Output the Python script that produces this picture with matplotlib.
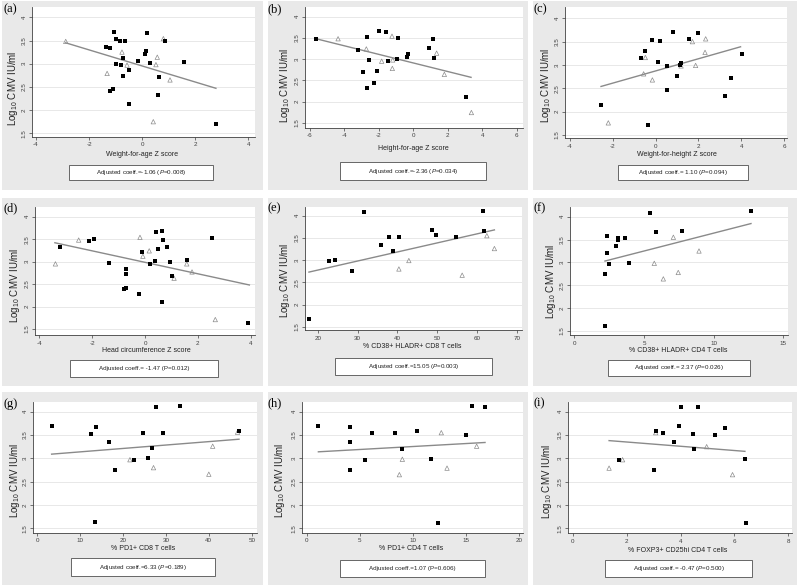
import matplotlib
matplotlib.use('Agg')
import matplotlib.pyplot as plt
from matplotlib.patches import Rectangle

plt.rcParams['font.family'] = 'Liberation Sans'
plt.rcParams['mathtext.fontset'] = 'custom'
plt.rcParams['mathtext.rm'] = 'Liberation Sans'
plt.rcParams['mathtext.it'] = 'Liberation Sans:italic'

W, H = 800, 587

# (a) weight-for-age
a_sq_x = [-1.05, 0.18, -0.97, -0.82, -0.65, 0.85, -1.37, -1.21, 0.15, 0.11, -0.72, -0.16,
          1.58, 0.30, -1.00, -0.78, -0.49, -0.72, 0.62, -1.11, -1.22, 0.60, -0.48, 2.80]
a_sq_y = [3.69, 3.67, 3.53, 3.50, 3.48, 3.50, 3.35, 3.33, 3.28, 3.21, 3.12, 3.05,
          3.04, 3.02, 2.99, 2.97, 2.86, 2.74, 2.71, 2.45, 2.41, 2.33, 2.13, 1.69]
a_tri_x = [-2.88, -0.76, 0.80, 0.57, -0.57, 0.52, -1.32, 1.05, 0.42]
a_tri_y = [3.48, 3.25, 3.54, 3.14, 2.97, 2.98, 2.79, 2.65, 1.75]
a_fit_x = [-2.88, 2.78]
a_fit_y = [3.45, 2.47]

# (b) height-for-age
b_sq_x = [-5.65, -1.97, -1.61, -2.67, -0.87, 1.12, 0.93, -3.23, -0.31, -0.35, 1.22, -0.97,
          -2.57, -1.45, -2.90, -2.11, -2.26, -2.67, 3.06]
b_sq_y = [3.47, 3.67, 3.65, 3.53, 3.50, 3.48, 3.27, 3.21, 3.11, 3.04, 3.02, 3.00,
          2.98, 2.95, 2.69, 2.73, 2.44, 2.33, 2.11]
b_tri_x = [-4.37, -1.24, -2.73, 1.35, -1.84, -1.20, -1.22, 1.80, 3.37]
b_tri_y = [3.48, 3.54, 3.24, 3.14, 2.95, 2.98, 2.78, 2.64, 1.74]
b_fit_x = [-5.65, 3.35]
b_fit_y = [3.48, 2.57]

# (c) weight-for-height
c_sq_x = [0.80, 1.98, -0.15, 0.21, 1.56, -0.48, -0.70, 0.13, 4.02, 0.53, 1.14, 1.19,
          1.00, 3.51, 0.53, 3.24, -2.55, -0.36]
c_sq_y = [3.71, 3.69, 3.53, 3.51, 3.55, 3.29, 3.14, 3.06, 3.24, 2.98, 3.01, 3.05,
          2.76, 2.73, 2.46, 2.34, 2.14, 1.71]
c_tri_x = [1.72, 2.34, 2.31, -0.48, 1.19, 1.87, -0.56, -0.15, -2.21]
c_tri_y = [3.50, 3.56, 3.27, 3.16, 2.98, 2.99, 2.81, 2.68, 1.76]
c_fit_x = [-2.55, 3.97]
c_fit_y = [2.54, 3.39]

# (d) head circumference
d_sq_x = [0.43, 0.66, 2.52, -2.12, -1.92, 0.69, -3.21, 0.85, 0.48, -0.13, 1.58, 0.39,
          0.96, 0.19, -1.35, -0.73, -0.73, 1.03, -0.73, -0.81, -0.24, 0.66, 3.91]
d_sq_y = [3.67, 3.69, 3.52, 3.47, 3.50, 3.49, 3.33, 3.32, 3.27, 3.21, 3.04, 3.01,
          2.99, 2.95, 2.98, 2.84, 2.72, 2.69, 2.41, 2.38, 2.29, 2.09, 1.64]
d_tri_x = [-3.39, -2.51, -0.19, 0.16, -0.08, 1.58, 1.10, 1.78, 2.66]
d_tri_y = [2.95, 3.48, 3.54, 3.24, 3.12, 2.95, 2.63, 2.77, 1.71]
d_fit_x = [-3.41, 3.95]
d_fit_y = [3.42, 2.48]

# (e) CD38+ HLADR+ CD8
e_sq_x = [31.7, 61.6, 48.6, 49.6, 61.8, 38.0, 40.4, 54.7, 35.9, 38.8, 22.9, 24.4, 28.7, 17.8]
e_sq_y = [4.08, 4.10, 3.68, 3.57, 3.66, 3.53, 3.51, 3.52, 3.34, 3.21, 2.98, 3.00, 2.75, 1.67]
e_tri_x = [40.4, 42.9, 56.3, 62.5, 64.4]
e_tri_y = [2.80, 2.99, 2.66, 3.55, 3.26]
e_fit_x = [17.8, 64.4]
e_fit_y = [2.73, 3.68]

# (f) CD38+ HLADR+ CD4
f_sq_x = [5.41, 12.68, 7.70, 5.86, 2.37, 3.16, 3.16, 3.64, 2.99, 2.37, 2.49, 3.90, 2.20, 2.22]
f_sq_y = [4.09, 4.12, 3.69, 3.67, 3.58, 3.53, 3.50, 3.53, 3.35, 3.21, 2.97, 2.98, 2.75, 1.62]
f_tri_x = [7.11, 5.74, 8.95, 7.46, 6.39]
f_tri_y = [3.55, 2.98, 3.25, 2.78, 2.64]
f_fit_x = [2.20, 12.68]
f_fit_y = [3.03, 3.85]

# (g) PD1+ CD8
g_sq_x = [3.34, 12.52, 13.76, 27.76, 33.36, 16.80, 24.57, 29.39, 26.83, 22.55, 25.74, 18.20, 13.45, 47.04]
g_sq_y = [3.70, 3.52, 3.68, 4.11, 4.12, 3.35, 3.54, 3.54, 3.23, 2.97, 3.00, 2.75, 1.63, 3.59]
g_tri_x = [46.7, 21.6, 27.1, 40.9, 40.0]
g_tri_y = [3.56, 2.97, 2.80, 3.26, 2.66]
g_fit_x = [3.34, 47.04]
g_fit_y = [3.09, 3.41]

# (h) PD1+ CD4
h_sq_x = [1.10, 15.6, 16.8, 4.11, 6.12, 8.32, 10.42, 15.0, 4.11, 9.01, 5.49, 11.68, 4.11, 12.40]
h_sq_y = [3.70, 4.12, 4.10, 3.67, 3.54, 3.54, 3.59, 3.51, 3.35, 3.21, 2.97, 2.99, 2.74, 1.61]
h_tri_x = [12.68, 16.01, 9.01, 13.22, 8.73]
h_tri_y = [3.55, 3.26, 2.98, 2.79, 2.65]
h_fit_x = [1.10, 16.8]
h_fit_y = [3.14, 3.34]

# (i) FOXP3+ CD25hi CD4
i_sq_x = [4.00, 4.64, 3.94, 5.66, 3.08, 3.36, 4.48, 5.29, 3.75, 4.49, 1.73, 6.39, 3.03, 6.42]
i_sq_y = [4.11, 4.10, 3.69, 3.66, 3.58, 3.54, 3.53, 3.51, 3.34, 3.21, 2.97, 2.99, 2.74, 1.62]
i_tri_x = [1.35, 1.85, 3.08, 4.97, 5.93]
i_tri_y = [2.79, 2.97, 3.55, 3.25, 2.65]
i_fit_x = [1.35, 6.39]
i_fit_y = [3.38, 3.15]

letters = ['(a)', '(b)', '(c)', '(d)', '(e)', '(f)', '(g)', '(h)', '(i)']
xlabels = ['Weight-for-age Z score', 'Height-for-age Z score', 'Weight-for-height Z score',
           'Head circumference Z score', '% CD38+ HLADR+ CD8 T cells', '% CD38+ HLADR+ CD4 T cells',
           '% PD1+ CD8 T cells', '% PD1+ CD4 T cells', '% FOXP3+ CD25hi CD4 T cells']
coef_texts = ['Adjusted coeff.=-1.06', 'Adjusted coeff.=-2.36', 'Adjusted coeff.= 1.10',
              'Adjusted coeff.= -1.47', 'Adjusted coeff.=15.05', 'Adjusted coeff.= 2.37',
              'Adjusted coeff.=6.33', 'Adjusted coeff.=1.07', 'Adjusted coeff.= -0.47']
p_texts = ['0.008', '0.034', '0.094', '0.012', '0.003', '0.026', '0.189', '0.606', '0.500']
p_italic = [True, True, True, False, True, True, True, False, True]
xticks = [[-4, -2, 0, 2, 4], [-6, -4, -2, 0, 2, 4, 6], [-4, -2, 0, 2, 4, 6], [-4, -2, 0, 2, 4],
          [20, 30, 40, 50, 60, 70], [0, 5, 10, 15], [0, 10, 20, 30, 40, 50], [0, 5, 10, 15, 20],
          [0, 2, 4, 6, 8]]
yticks = [1.5, 2, 2.5, 3, 3.5, 4]
ytick_labels = ['1.5', '2', '2.5', '3', '3.5', '4']

squares = [(a_sq_x, a_sq_y), (b_sq_x, b_sq_y), (c_sq_x, c_sq_y), (d_sq_x, d_sq_y), (e_sq_x, e_sq_y),
           (f_sq_x, f_sq_y), (g_sq_x, g_sq_y), (h_sq_x, h_sq_y), (i_sq_x, i_sq_y)]
triangles = [(a_tri_x, a_tri_y), (b_tri_x, b_tri_y), (c_tri_x, c_tri_y), (d_tri_x, d_tri_y),
             (e_tri_x, e_tri_y), (f_tri_x, f_tri_y), (g_tri_x, g_tri_y), (h_tri_x, h_tri_y),
             (i_tri_x, i_tri_y)]
fits = [(a_fit_x, a_fit_y), (b_fit_x, b_fit_y), (c_fit_x, c_fit_y), (d_fit_x, d_fit_y),
        (e_fit_x, e_fit_y), (f_fit_x, f_fit_y), (g_fit_x, g_fit_y), (h_fit_x, h_fit_y),
        (i_fit_x, i_fit_y)]

# layout in pixels, relative to each panel's origin
COL_X = [0, 265, 530]
ROW_Y = [0, 195, 390]
BG_COLS = [(2, 263), (268, 528), (533, 797)]
BG_ROWS = [(1, 190), (198, 386), (392, 585)]
# plot rect (left, top, right, bottom), first/last x tick px, y=4 / y=1.5 px
RECTS = [(32, 7, 255, 136.7), (40, 7, 258, 127.7), (35, 7, 257, 138.3),
         (35, 11.7, 255, 140), (40, 11.7, 257, 135), (40, 11.7, 258, 140),
         (33, 11.7, 257, 142.7), (37, 11.7, 258, 142.7), (38, 11.7, 262, 143.3)]
XTICK_PX = [(36, 248.3), (45, 251.7), (40, 254), (39.3, 250.7), (52.7, 251.7), (44.3, 253.3),
            (37.3, 251.7), (41.7, 254), (42.7, 258.3)]
YTICK_PX = [(17.3, 133.3), (16.7, 122.7), (18.3, 135), (21.7, 134), (20.7, 131.7), (21.7, 136),
            (21.7, 138.3), (21.7, 138.3), (21.7, 138.3)]
XLAB_POS = [(142, 154), (148, 148), (147, 155), (146, 156), (147, 152), (148, 155),
            (143, 158), (146, 158), (148, 160)]
YLAB_POS = [(13, 88), (20, 85), (16, 85), (15, 90), (20, 85), (21, 86), (15, 90), (15, 90), (17, 91)]
BOXES = [(69, 165, 213, 180), (75, 162, 221, 180), (88, 165, 218, 180), (70, 165, 218, 182),
         (70, 163, 227, 180), (78, 165, 220, 181), (71, 168, 215, 186), (75, 170, 220, 187),
         (75, 170, 222, 187)]

BG = '#e9e9e9'
AXC = '#404040'


def fx(x):
    return x / W


def fy(y):
    return 1 - y / H


fig = plt.figure(figsize=(W / 100, H / 100), dpi=100)
fig.patch.set_facecolor('white')

for k in range(9):
    col, row = k % 3, k // 3
    ox, oy = COL_X[col], ROW_Y[row]

    bx0, bx1 = BG_COLS[col]
    by0, by1 = BG_ROWS[row]
    fig.add_artist(Rectangle((fx(bx0), fy(by1)), (bx1 - bx0) / W, (by1 - by0) / H,
                             transform=fig.transFigure, facecolor=BG, edgecolor='none', zorder=-5))

    L, T, R, B = RECTS[k]
    ax = fig.add_axes([fx(ox + L), fy(oy + B), (R - L) / W, (B - T) / H])
    ax.set_facecolor('white')

    xt = xticks[k]
    xp0, xp1 = XTICK_PX[k]
    sx = (xt[-1] - xt[0]) / (xp1 - xp0)
    ax.set_xlim(xt[0] + (L - xp0) * sx, xt[-1] + (R - xp1) * sx)
    yp4, yp15 = YTICK_PX[k]
    sy = 2.5 / (yp15 - yp4)
    ax.set_ylim(1.5 - (B - yp15) * sy, 4 + (yp4 - T) * sy)

    for yv in yticks:
        ax.axhline(yv, color='#e4e4e4', lw=0.6, zorder=0)

    sqx, sqy = squares[k]
    trx, try_ = triangles[k]
    fitx, fity = fits[k]
    ax.plot(fitx, fity, color='#8a8a8a', lw=1.0, zorder=2)
    ax.scatter(trx, try_, marker='^', s=10, facecolors='none', edgecolors='#8c8c8c',
               linewidths=0.5, zorder=3)
    ax.scatter(sqx, sqy, marker='s', s=6, color='black', linewidths=0, zorder=4)

    ax.set_xticks(xt)
    ax.set_xticklabels([str(v) for v in xt])
    ax.set_yticks(yticks)
    ax.set_yticklabels(ytick_labels, rotation=90, va='center')
    ax.tick_params(axis='both', labelsize=4.5, length=2.5, width=0.5, colors=AXC, pad=1.5)
    for s in ['top', 'right']:
        ax.spines[s].set_visible(False)
    for s in ['left', 'bottom']:
        ax.spines[s].set_color(AXC)
        ax.spines[s].set_linewidth(0.6)

    fig.text(fx(ox + 3), fy(oy + T + 2), letters[k], family='Liberation Serif', fontsize=9,
             ha='left', va='center')

    xl, yl = XLAB_POS[k]
    fig.text(fx(ox + xl), fy(oy + yl), xlabels[k], fontsize=5, ha='center', va='center', color='#222222')
    ylx, yly = YLAB_POS[k]
    fig.text(fx(ox + ylx), fy(oy + yly), r'Log$_{10}$ CMV IU/ml', fontsize=7, rotation=90,
             ha='center', va='center', color='#222222')

    x0, y0, x1, y1 = BOXES[k]
    fig.add_artist(Rectangle((fx(ox + x0), fy(oy + y1)), (x1 - x0) / W, (y1 - y0) / H,
                             transform=fig.transFigure, facecolor='white', edgecolor='#505050',
                             lw=0.6, zorder=-1))
    ptxt = r'$\mathit{P}$' if p_italic[k] else 'P'
    fig.text(fx(ox + (x0 + x1) / 2), fy(oy + (y0 + y1) / 2),
             coef_texts[k] + ' (' + ptxt + '=' + p_texts[k] + ')',
             fontsize=4.5, ha='center', va='center', color='#222222')

fig.savefig('out.png', dpi=100)
